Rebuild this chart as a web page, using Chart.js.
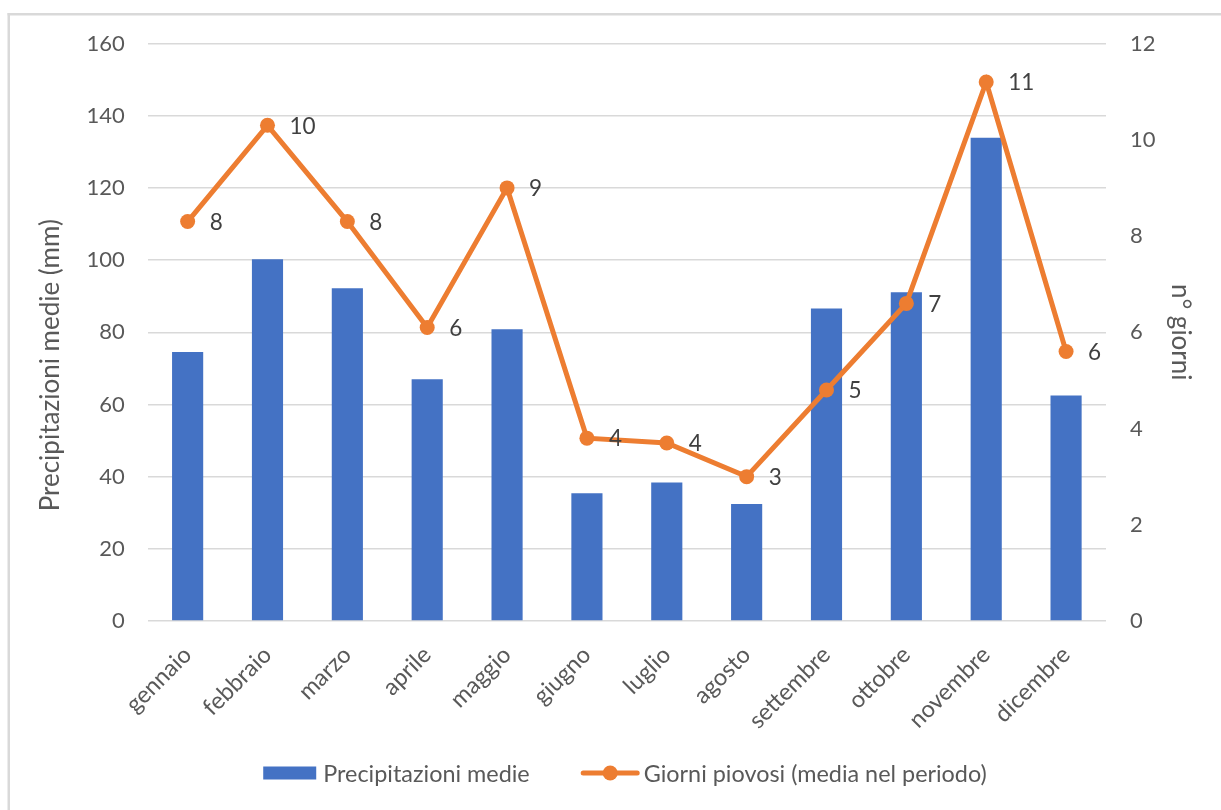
<!DOCTYPE html>
<html>
<head>
<meta charset="utf-8">
<script src="https://cdn.jsdelivr.net/npm/chart.js@4.4.1/dist/chart.umd.min.js"></script>
<style>
  html, body { margin: 0; padding: 0; background: #ffffff; }
  #wrap { width: 1221px; height: 810px; position: relative; }
</style>
</head>
<body>
<div id="wrap"><canvas id="grafico"></canvas></div>
<script>
// Mesi dell'anno
const mesi = ['gennaio', 'febbraio', 'marzo', 'aprile', 'maggio', 'giugno',
              'luglio', 'agosto', 'settembre', 'ottobre', 'novembre', 'dicembre'];

// Precipitazioni medie mensili (mm)
const precipitazioni = [74.5, 100.2, 92.2, 67.0, 80.8, 35.4, 38.4, 32.4, 86.6, 91.1, 133.9, 62.5];

// Giorni piovosi (media nel periodo)
const giorniPiovosi = [8.3, 10.3, 8.3, 6.1, 9.0, 3.8, 3.7, 3.0, 4.8, 6.6, 11.2, 5.6];

// Limiti e passi degli assi
const assePrecip = [0, 160, 20];
const asseGiorni = [0, 12, 2];

// Titoli degli assi
const titoloSinistro = 'Precipitazioni medie (mm)';
const titoloDestro = 'n° giorni';

const BLU = '#4472C4';
const ARANCIO = '#ED7D31';
const GRIGIO_TESTO = '#595959';
const GRIGIO_GRIGLIA = '#d9d9d9';
const FONT = 'Lato, "Liberation Sans", sans-serif';

Chart.defaults.font.family = FONT;
Chart.defaults.color = GRIGIO_TESTO;

// Cornice e sfondo
const cornice = {
  id: 'cornice',
  beforeDraw(chart) {
    const ctx = chart.ctx;
    ctx.save();
    ctx.fillStyle = '#ffffff';
    ctx.fillRect(0, 0, chart.width, chart.height);
    ctx.fillStyle = GRIGIO_GRIGLIA;
    ctx.fillRect(7.5, 13, 2.5, chart.height - 13);
    ctx.fillRect(7.5, 13, chart.width, 2.5);
    ctx.restore();
  }
};

// Titolo dell'asse sinistro, ruotato, leggermente spostato verso il basso
const titoloAsseSinistro = {
  id: 'titoloAsseSinistro',
  afterDraw(chart) {
    const ctx = chart.ctx;
    const area = chart.chartArea;
    ctx.save();
    ctx.translate(51, (area.top + area.bottom) / 2 + 33);
    ctx.rotate(-Math.PI / 2);
    ctx.font = '26px ' + FONT;
    ctx.fillStyle = GRIGIO_TESTO;
    ctx.textAlign = 'center';
    ctx.textBaseline = 'middle';
    ctx.fillText(titoloSinistro, 0, 0);
    ctx.restore();
  }
};

// Etichette dei valori sulla linea dei giorni piovosi
const etichetteGiorni = {
  id: 'etichetteGiorni',
  afterDatasetsDraw(chart) {
    const meta = chart.getDatasetMeta(1);
    const dati = chart.data.datasets[1].data;
    const ctx = chart.ctx;
    ctx.save();
    ctx.font = '22.5px ' + FONT;
    ctx.fillStyle = '#404040';
    ctx.textAlign = 'left';
    ctx.textBaseline = 'middle';
    meta.data.forEach((p, i) => {
      ctx.fillText(String(Math.round(dati[i])), p.x + 22, p.y + 1);
    });
    ctx.restore();
  }
};

// Legenda in basso: rettangolo per le barre, linea con marcatore per la serie dei giorni
const legendaBasso = {
  id: 'legendaBasso',
  afterDraw(chart) {
    const ctx = chart.ctx;
    const [dsBarre, dsLinea] = chart.data.datasets;
    const cy = chart.height - 37;
    const centro = 625;
    ctx.save();
    ctx.font = '23.4px ' + FONT;
    ctx.textBaseline = 'middle';
    ctx.textAlign = 'left';
    const w1 = ctx.measureText(dsBarre.label).width;
    const w2 = ctx.measureText(dsLinea.label).width;
    const larghBarra = 53, larghLinea = 59;
    const totale = larghBarra + 7 + w1 + 51 + larghLinea + 4 + w2;
    let x = centro - totale / 2;

    ctx.fillStyle = dsBarre.backgroundColor;
    ctx.fillRect(x, cy - 6.5, larghBarra, 13);
    x += larghBarra + 7;
    ctx.fillStyle = GRIGIO_TESTO;
    ctx.fillText(dsBarre.label, x, cy + 1);
    x += w1 + 51;

    ctx.strokeStyle = dsLinea.borderColor;
    ctx.lineWidth = 5;
    ctx.lineCap = 'round';
    ctx.beginPath();
    ctx.moveTo(x + 2.5, cy);
    ctx.lineTo(x + larghLinea - 2.5, cy);
    ctx.stroke();
    ctx.fillStyle = dsLinea.pointBackgroundColor;
    ctx.beginPath();
    ctx.arc(x + larghLinea / 2, cy, 7.5, 0, Math.PI * 2);
    ctx.fill();
    x += larghLinea + 4;
    ctx.fillStyle = GRIGIO_TESTO;
    ctx.fillText(dsLinea.label, x, cy + 1);
    ctx.restore();
  }
};

new Chart(document.getElementById('grafico'), {
  data: {
    labels: mesi,
    datasets: [
      {
        type: 'bar',
        label: 'Precipitazioni medie',
        data: precipitazioni,
        backgroundColor: BLU,
        borderWidth: 0,
        barPercentage: 0.39,
        categoryPercentage: 1,
        yAxisID: 'y',
        order: 2
      },
      {
        type: 'line',
        label: 'Giorni piovosi (media nel periodo)',
        data: giorniPiovosi,
        borderColor: ARANCIO,
        backgroundColor: ARANCIO,
        borderWidth: 5,
        pointRadius: 7.5,
        pointBorderWidth: 0,
        pointBackgroundColor: ARANCIO,
        tension: 0,
        yAxisID: 'y1',
        order: 1
      }
    ]
  },
  options: {
    responsive: true,
    maintainAspectRatio: false,
    animation: false,
    layout: { padding: { left: 61, right: 28, top: 43.5, bottom: 74 } },
    plugins: {
      tooltip: { enabled: false },
      legend: { display: false }
    },
    scales: {
      x: {
        grid: { display: false },
        border: { display: false },
        ticks: { color: GRIGIO_TESTO, font: { size: 23.5 }, minRotation: 45, maxRotation: 45, padding: 12 },
        afterFit(s) { s.height = 115; }
      },
      y: {
        position: 'left',
        min: assePrecip[0], max: assePrecip[1],
        ticks: { stepSize: assePrecip[2], color: GRIGIO_TESTO, font: { size: 22 }, padding: 23 },
        grid: { color: GRIGIO_GRIGLIA, lineWidth: 1.5, drawTicks: false },
        border: { display: false },
        title: { display: false },
        afterFit(s) { s.width = 86.7; }
      },
      y1: {
        position: 'right',
        min: asseGiorni[0], max: asseGiorni[1],
        ticks: { stepSize: asseGiorni[2], color: GRIGIO_TESTO, font: { size: 22 }, padding: 24 },
        grid: { display: false, drawTicks: false },
        border: { display: false },
        title: {
          display: true,
          text: titoloDestro,
          color: GRIGIO_TESTO,
          font: { size: 26 },
          padding: { top: -2.6, bottom: 0 }
        },
        afterFit(s) { s.width = 87; }
      }
    }
  },
  plugins: [cornice, titoloAsseSinistro, etichetteGiorni, legendaBasso]
});
</script>
</body>
</html>
